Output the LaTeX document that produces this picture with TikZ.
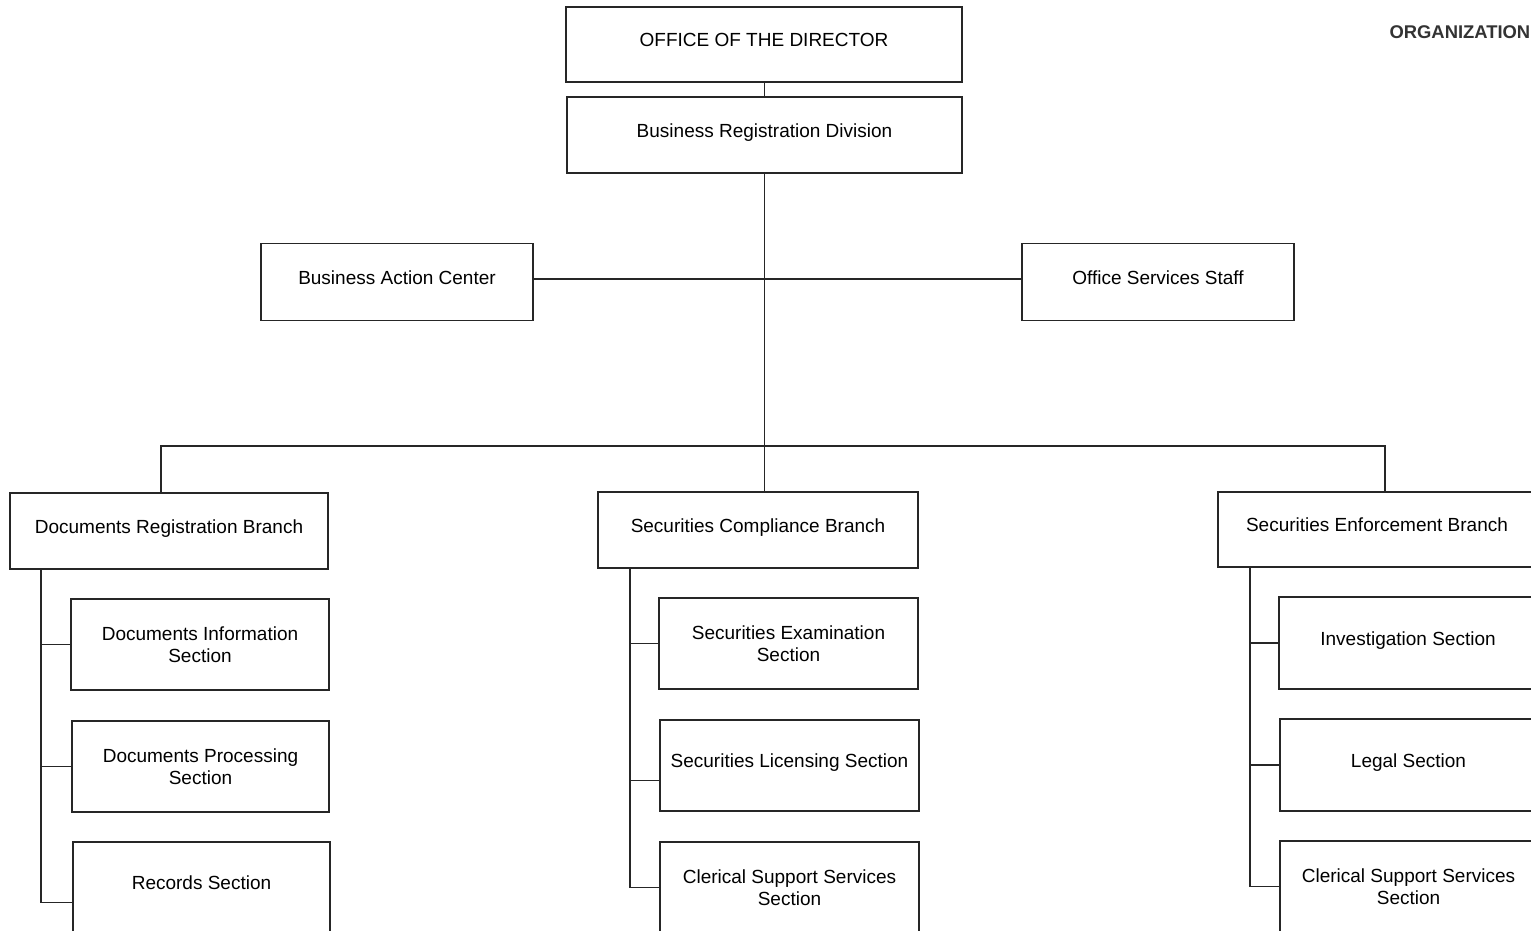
\documentclass[tikz,border=0pt]{standalone}
\usepackage{fontspec}
\setmainfont{Liberation Sans}
\usepackage{tikz}
\usetikzlibrary{calc}
\usetikzlibrary{positioning}

\begin{document}
\begin{tikzpicture}[x=1pt, y=-1pt,
  unit/.style={rectangle, draw=black!85, line width=1.3pt, align=center, inner sep=2pt, font=\fontsize{19}{22}\selectfont},
  oneline/.style={unit, text height=13.6pt, text depth=9pt},
  link/.style={draw=black!85, line width=1.3pt}]
\useasboundingbox (0,0) rectangle (1531,930);
\node [anchor=west, font=\fontsize{18.4}{22}\selectfont\bfseries, text=black!80] (title) at (1386, 32) {ORGANIZATION};
\node [oneline, minimum width=396pt, minimum height=75pt] (dir) at (764, 44.5) {OFFICE OF THE DIRECTOR};
\node [oneline, minimum width=395pt, minimum height=76pt] (brd) at (764.5, 135) {Business Registration Division};
\node [oneline, minimum width=272pt, minimum height=77pt] (bac) at (397, 282) {Business Action Center};
\node [oneline, minimum width=272pt, minimum height=77pt] (oss) at (1158, 282) {Office Services Staff};
\node [oneline, minimum width=318pt, minimum height=76pt] (drb) at (169, 531) {Documents Registration Branch};
\node [oneline, minimum width=320pt, minimum height=76pt] (scb) at (758, 530) {Securities Compliance Branch};
\node [oneline, minimum width=318pt, minimum height=75pt] (seb) at (1377, 529.5) {Securities Enforcement Branch};
\node [unit, minimum width=258pt, minimum height=91pt] (dis) at (200, 644.5) {Documents Information\\Section};
\node [unit, minimum width=257pt, minimum height=91pt] (dps) at (200.5, 766.5) {Documents Processing\\Section};
\node [oneline, minimum width=257pt, minimum height=91pt] (rs) at (201.5, 887.5) {Records Section};
\node [unit, minimum width=259pt, minimum height=91pt] (ses) at (788.5, 643.5) {Securities Examination\\Section};
\node [oneline, minimum width=259pt, minimum height=91pt] (sls) at (789.5, 765.5) {Securities Licensing Section};
\node [unit, minimum width=259pt, minimum height=91pt] (css) at (789.5, 887.5) {Clerical Support Services\\Section};
\node [oneline, minimum width=258pt, minimum height=92pt] (ins) at (1408, 643) {Investigation Section};
\node [oneline, minimum width=257pt, minimum height=92pt] (lgs) at (1408.5, 765) {Legal Section};
\node [unit, minimum width=257pt, minimum height=91pt] (csse) at (1408.5, 886.5) {Clerical Support Services\\Section};
% top of the chart
\draw [link] (dir.south -| brd.north) -- (brd.north);
\draw [link] (brd.south) -- (brd.south |- scb.north);
\draw [link] ([yshift=3pt]bac.east) -- ([yshift=3pt]oss.west);
\coordinate (busL) at (161, 446);
\coordinate (busR) at (1385, 446);
\draw [link] (busL |- drb.north) -- (busL) -- (busR) -- (busR |- seb.north);
% branches
\coordinate (dA) at (41, 0);
\coordinate (cA) at (630, 0);
\coordinate (eA) at (1250, 0);
\draw [link] (dA |- drb.south) |- ([yshift=-15pt]rs.west);
\draw [link] (dA |- dis.west) -- (dis.west);
\draw [link] (dA |- dps.west) -- (dps.west);
\draw [link] (cA |- scb.south) |- (css.west);
\draw [link] (cA |- ses.west) -- (ses.west);
\draw [link] ([yshift=-15pt]sls.west -| cA) -- ([yshift=-15pt]sls.west);
\draw [link] (eA |- seb.south) |- (csse.west);
\draw [link] (eA |- ins.west) -- (ins.west);
\draw [link] (eA |- lgs.west) -- (lgs.west);
\end{tikzpicture}
\end{document}
